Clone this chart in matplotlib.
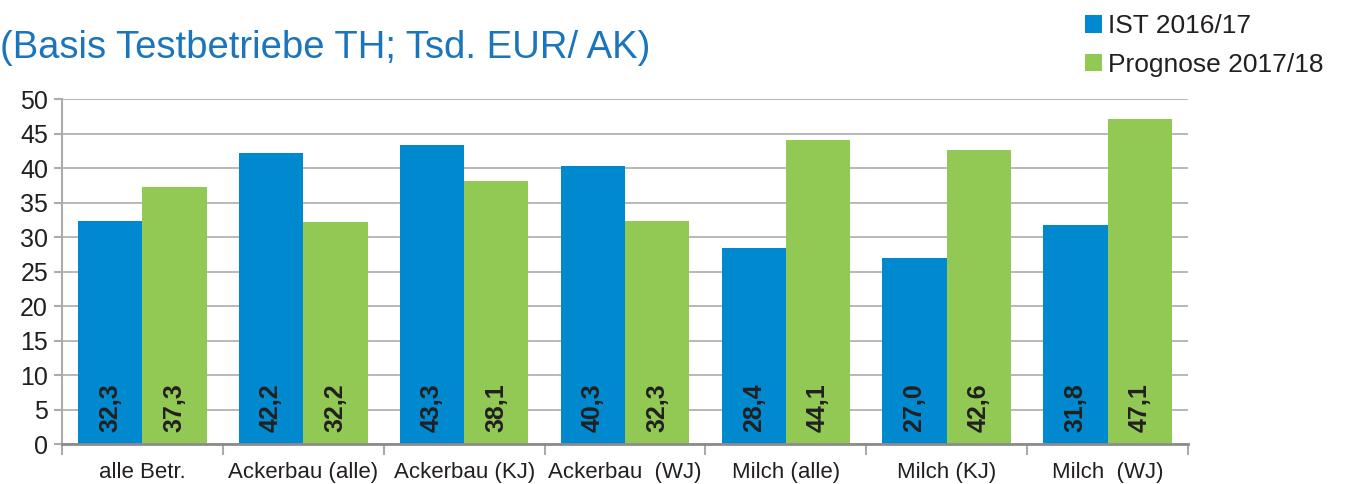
import numpy as np
from matplotlib import pyplot as plt
from matplotlib.patches import Patch

plt.rcParams['font.family'] = ['Liberation Sans', 'DejaVu Sans']

categories = ["alle Betr.", "Ackerbau (alle)", "Ackerbau (KJ)", "Ackerbau  (WJ)",
              "Milch (alle)", "Milch (KJ)", "Milch  (WJ)"]
ist = [32.3, 42.2, 43.3, 40.3, 28.4, 27.0, 31.8]
prognose = [37.3, 32.2, 38.1, 32.3, 44.1, 42.6, 47.1]
series_names = ["IST 2016/17", "Prognose 2017/18"]

BLUE = '#0089CF'
GREEN = '#92C955'
GRID = '#ABABAB'
TXT = '#231F20'


def fmt(v):
    return ("%.1f" % v).replace('.', ',')


def plot_chart():
    fig = plt.figure(figsize=(13.54, 4.84), dpi=100)
    ax = fig.add_axes([0.0458, 0.0826, 0.8316, 0.7128])

    x = np.arange(len(categories))
    w = 0.4
    b1 = ax.bar(x - w / 2, ist, w, color=BLUE, zorder=2)
    b2 = ax.bar(x + w / 2, prognose, w, color=GREEN, zorder=2)

    for bars, vals in ((b1, ist), (b2, prognose)):
        for r, v in zip(bars, vals):
            ax.text(r.get_x() + r.get_width() / 2, 1.7, fmt(v), rotation=90,
                    ha='center', va='bottom', fontsize=18, fontweight='bold',
                    color=TXT, zorder=3)

    ax.set_xlim(-0.5, len(categories) - 0.5)
    ax.set_ylim(0, 50)
    ax.set_yticks(np.arange(0, 51, 5))
    ax.set_xticks(x)
    ax.set_xticklabels(categories, fontsize=16, color=TXT)
    ax.set_xticks(np.arange(-0.5, len(categories), 1), minor=True)
    ax.tick_params(axis='x', which='major', length=0, pad=13)
    ax.tick_params(axis='x', which='minor', length=8, color=GRID, width=1.5)
    ax.tick_params(axis='y', length=6, color=GRID, width=1.5, labelsize=18,
                   labelcolor=TXT, pad=4)

    ax.grid(axis='y', color=GRID, linewidth=1.2, zorder=0)
    ax.set_axisbelow(True)
    for s in ['top', 'right']:
        ax.spines[s].set_visible(False)
    ax.spines['left'].set_color(GRID)
    ax.spines['left'].set_linewidth(1.5)
    ax.spines['bottom'].set_color('#8C8C8C')
    ax.spines['bottom'].set_linewidth(2)

    fig.text(0.0, 0.90, "(Basis Testbetriebe TH; Tsd. EUR/ AK)", fontsize=27.5,
             color='#1B75BC', ha='left', va='center')

    handles = [Patch(facecolor=BLUE), Patch(facecolor=GREEN)]
    fig.legend(handles, series_names, loc='upper left',
               bbox_to_anchor=(0.784, 1.02), frameon=False,
               prop={'size': 19}, handlelength=0.65, handleheight=0.65,
               handletextpad=0.2, labelspacing=0.55, labelcolor=TXT)

    fig_file = "out.png"
    print("saving %s" % fig_file)
    plt.savefig(fig_file, dpi=100)


if __name__ == '__main__':
    plot_chart()
